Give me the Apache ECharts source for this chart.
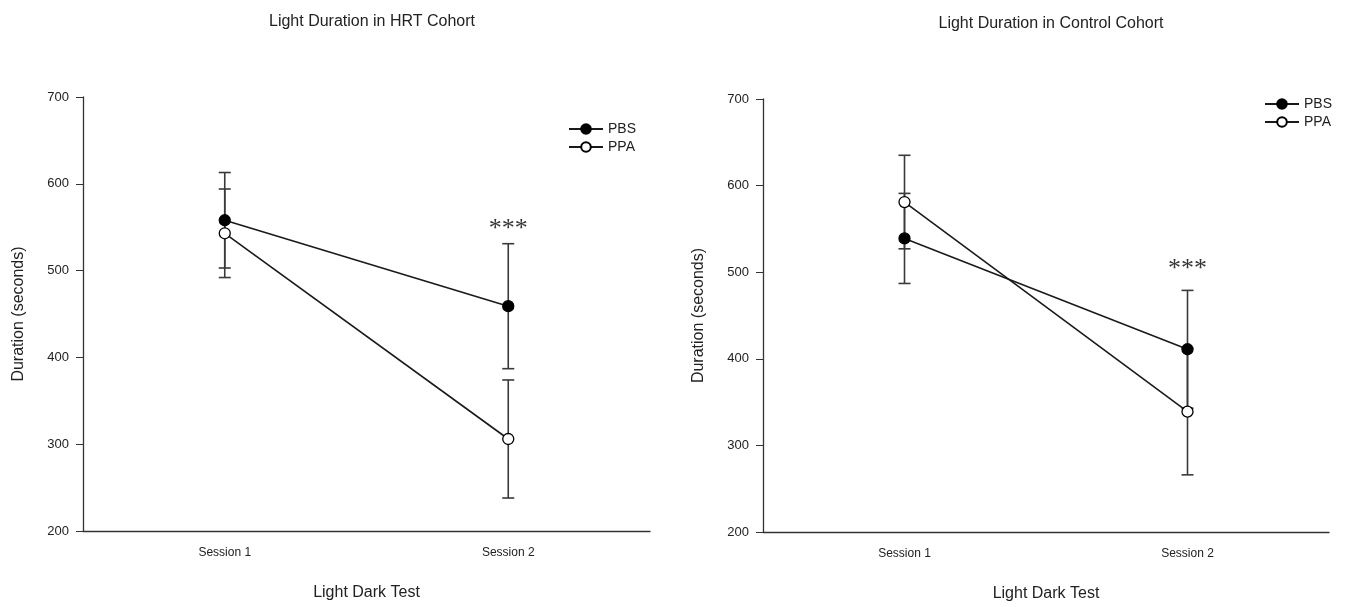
<!DOCTYPE html>
<html>
<head>
<meta charset="utf-8">
<script src="https://cdn.jsdelivr.net/npm/echarts@6/dist/echarts.min.js"></script>
<style>
html,body{margin:0;padding:0;background:#fff;}
#c{width:1353px;height:607px;}
</style>
</head>
<body>
<div id="c"></div>
<script>
const categories = ['Session 1', 'Session 2'];
const yTicks = [200, 300, 400, 500, 600, 700];

const hrtPBS = [558, 459];
const hrtPBSErr = [55, 72];
const hrtPPA = [543, 306];
const hrtPPAErr = [51, 68];

const ctrlPBS = [539, 411];
const ctrlPBSErr = [52, 68];
const ctrlPPA = [581, 339];
const ctrlPPAErr = [54, 73];

const sigLabel = '***';
const hrtSigPos = [1, 548];
const ctrlSigPos = [1, 503];

const FONT = 'Liberation Sans, Arial, sans-serif';

function errData(vals, errs) {
  return vals.map((v, i) => [i, v - errs[i], v + errs[i]]);
}

function errSeries(vals, errs, gi) {
  return {
    type: 'custom',
    xAxisIndex: gi, yAxisIndex: gi,
    z: 1,
    silent: true,
    data: errData(vals, errs),
    encode: { x: 0, y: [1, 2] },
    renderItem: function (params, api) {
      const lo = api.coord([api.value(0), api.value(1)]);
      const hi = api.coord([api.value(0), api.value(2)]);
      const hw = 6;
      const st = { stroke: '#3a3a3a', lineWidth: 1.6 };
      return {
        type: 'group',
        children: [
          { type: 'line', shape: { x1: lo[0], y1: lo[1], x2: hi[0], y2: hi[1] }, style: st },
          { type: 'line', shape: { x1: lo[0] - hw, y1: lo[1], x2: lo[0] + hw, y2: lo[1] }, style: st },
          { type: 'line', shape: { x1: hi[0] - hw, y1: hi[1], x2: hi[0] + hw, y2: hi[1] }, style: st }
        ]
      };
    }
  };
}

function lineSeries(name, vals, gi, filled) {
  return {
    name: name,
    type: 'line',
    xAxisIndex: gi, yAxisIndex: gi,
    z: 3,
    data: vals,
    symbol: 'circle',
    symbolSize: 11,
    lineStyle: { color: '#1a1a1a', width: 1.6 },
    itemStyle: { color: filled ? '#000' : '#fff', borderColor: '#000', borderWidth: 1.3 },
    emphasis: { disabled: true },
    animation: false
  };
}

function sigSeries(pos, gi) {
  return {
    type: 'scatter',
    xAxisIndex: gi, yAxisIndex: gi,
    symbolSize: 0,
    silent: true,
    data: [pos],
    label: {
      show: true, formatter: sigLabel, position: 'inside',
      fontFamily: 'Liberation Serif, Times New Roman, serif', fontSize: 26, color: '#000'
    }
  };
}

function xAxis(gi) {
  return {
    type: 'category', gridIndex: gi, data: categories,
    boundaryGap: true,
    name: 'Light Dark Test', nameLocation: 'middle', nameGap: 54,
    nameTextStyle: { fontFamily: FONT, fontSize: 16, color: '#222' },
    axisLine: { lineStyle: { color: '#333', width: 1.3 } },
    axisTick: { alignWithLabel: true, length: 6, lineStyle: { color: '#333' } },
    axisLabel: { fontFamily: FONT, fontSize: 12, color: '#222', margin: 16 },
    splitLine: { show: false }
  };
}

function yAxis(gi) {
  return {
    type: 'value', gridIndex: gi, min: 200, max: 700, interval: 100,
    name: 'Duration (seconds)', nameLocation: 'middle', nameGap: 56,
    nameTextStyle: { fontFamily: FONT, fontSize: 16, color: '#222' },
    axisLine: { show: true, lineStyle: { color: '#333', width: 1.3 } },
    axisTick: { show: true, length: 7, lineStyle: { color: '#333' } },
    axisLabel: { fontFamily: FONT, fontSize: 13, color: '#222', margin: 14,
      formatter: v => yTicks.includes(v) ? String(v) : '' },
    splitLine: { show: false }
  };
}

const chart = echarts.init(document.getElementById('c'), null, { renderer: 'canvas' });
chart.setOption({
  animation: false,
  backgroundColor: '#fff',
  title: [
    { text: 'Light Duration in HRT Cohort', left: 367, top: 9, textAlign: 'center',
      textStyle: { fontFamily: FONT, fontSize: 16, fontWeight: 'normal', color: '#222' } },
    { text: 'Light Duration in Control Cohort', left: 1046, top: 11, textAlign: 'center',
      textStyle: { fontFamily: FONT, fontSize: 16, fontWeight: 'normal', color: '#222' } }
  ],
  legend: [
    { data: ['PBS', 'PPA'], orient: 'vertical', left: 563, top: 117, itemGap: 4,
      itemWidth: 34, itemHeight: 12,
      textStyle: { fontFamily: FONT, fontSize: 14, color: '#222' } },
    { data: ['PBS', 'PPA'], orient: 'vertical', left: 1259, top: 92, itemGap: 4,
      itemWidth: 34, itemHeight: 12,
      textStyle: { fontFamily: FONT, fontSize: 14, color: '#222' } }
  ],
  grid: [
    { left: 83, right: 703, top: 97, bottom: 76 },
    { left: 763, right: 24, top: 99, bottom: 75 }
  ],
  xAxis: [xAxis(0), xAxis(1)],
  yAxis: [yAxis(0), yAxis(1)],
  series: [
    errSeries(hrtPBS, hrtPBSErr, 0),
    errSeries(hrtPPA, hrtPPAErr, 0),
    lineSeries('PBS', hrtPBS, 0, true),
    lineSeries('PPA', hrtPPA, 0, false),
    sigSeries(hrtSigPos, 0),
    errSeries(ctrlPBS, ctrlPBSErr, 1),
    errSeries(ctrlPPA, ctrlPPAErr, 1),
    lineSeries('PBS', ctrlPBS, 1, true),
    lineSeries('PPA', ctrlPPA, 1, false),
    sigSeries(ctrlSigPos, 1)
  ]
});
</script>
</body>
</html>
